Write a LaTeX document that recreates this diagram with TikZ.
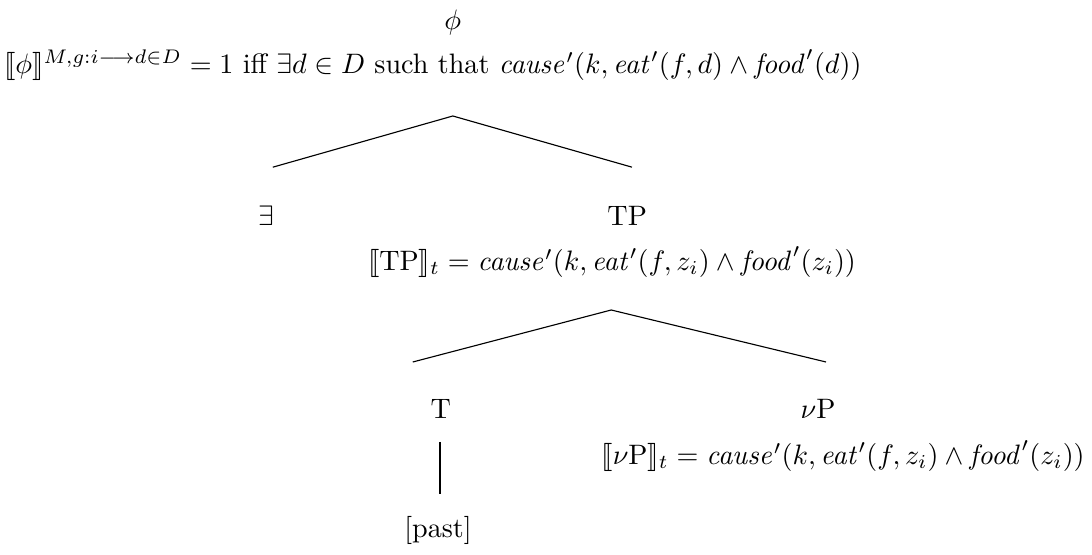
\documentclass[tikz,border=0pt]{standalone}
\usepackage{amsmath,amssymb}
\usepackage{stmaryrd}
\usetikzlibrary{positioning,calc}

\begin{document}
\begin{tikzpicture}[font=\normalsize]
    \tikzset{
      cat/.style={inner sep=1pt},
      sem/.style={inner sep=1pt},
      branch/.style={draw, line width=0.4pt},
    }
    \useasboundingbox (0,0) rectangle (13.65,-6.9375);

    \node[cat] (phi) at (5.66,-0.275) {$\phi$};
    \node[sem] (phisem) at (5.41,-0.81) {$\llbracket\phi\rrbracket^{M,g:i\longrightarrow d\in D} = 1$ iff $\exists d\in D$\ such that $\mathit{cause}'(k,\mathit{eat}'(f,d)\wedge\mathit{food}'(d))$};

    \coordinate (top1) at (5.66,-1.45);
    \coordinate (l1) at (3.41,-2.09);
    \coordinate (r1) at (7.90,-2.09);
    \draw[branch] (l1) -- (top1) -- (r1);

    \node[cat] (ex) at (3.325,-2.70) {$\exists$};
    \node[cat] (tp) at (7.84,-2.70) {TP};
    \node[sem] (tpsem) at (7.65,-3.275) {$\llbracket\text{TP}\rrbracket_t = \mathit{cause}'(k,\mathit{eat}'(f,z_i)\wedge\mathit{food}'(z_i))$};

    \coordinate (top2) at (7.64,-3.875);
    \coordinate (l2) at (5.16,-4.525);
    \coordinate (r2) at (10.325,-4.525);
    \draw[branch] (l2) -- (top2) -- (r2);

    \node[cat] (t) at (5.51,-5.11) {T};
    \node[cat] (vp) at (10.225,-5.11) {$\nu$P};
    \node[sem, anchor=east] (vpsem) at (13.6,-5.70) {$\llbracket\nu\text{P}\rrbracket_t = \mathit{cause}'(k,\mathit{eat}'(f,z_i)\wedge\mathit{food}'(z_i))$};

    \coordinate (tdown) at (5.50,-5.525);
    \coordinate (pastup) at (5.50,-6.175);
    \draw[branch] (tdown) -- (pastup);

    \node[cat] (past) at (5.475,-6.625) {[past]};
\end{tikzpicture}
\end{document}
